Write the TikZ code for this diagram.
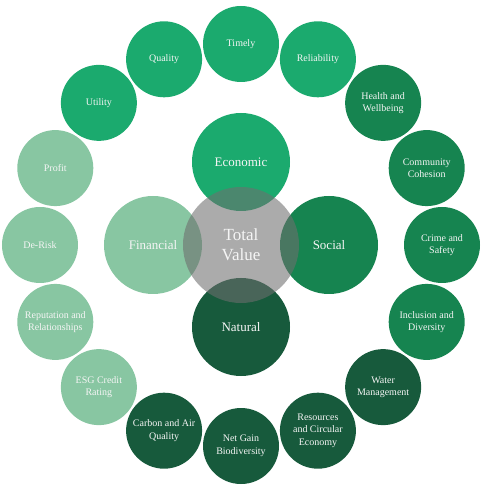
\documentclass[tikz,border=0pt]{standalone}
\usepackage{fontspec}
\setmainfont{Liberation Serif}
\definecolor{econ}{RGB}{27,170,110}
\definecolor{soc}{RGB}{22,132,80}
\definecolor{nat}{RGB}{23,90,60}
\definecolor{fin}{RGB}{136,198,162}
\definecolor{tvgray}{RGB}{110,110,110}
\definecolor{txt}{RGB}{245,245,245}
\tikzset{
  outer/.style={circle, minimum size=76pt, inner sep=0pt, align=center, text=txt,
    font=\fontsize{10}{12.5}\selectfont},
  pillar/.style={circle, minimum size=98pt, inner sep=0pt, align=center, text=txt,
    font=\fontsize{13}{15}\selectfont},
  total/.style={circle, minimum size=116pt, inner sep=0pt, align=center, text=txt,
    fill=tvgray, fill opacity=0.58, text opacity=1,
    font=\fontsize{17}{20}\selectfont}
}
\begin{document}
\begin{tikzpicture}[x=1pt,y=1pt]
\useasboundingbox (-241,-249) rectangle (242,245);
\def\R{201}
% outer ring: economic group
\node[outer, fill=econ] (timely) at (90:\R) {Timely};
\node[outer, fill=econ] (reliab) at (67.5:\R) {Reliability};
\node[outer, fill=econ] (quality) at (112.5:\R) {Quality};
\node[outer, fill=econ] (utility) at (135:\R) {Utility};
% social group
\node[outer, fill=soc] (health) at (45:\R) {Health and\\Wellbeing};
\node[outer, fill=soc] (commun) at (22.5:\R) {Community\\Cohesion};
\node[outer, fill=soc] (crime) at (0:\R) {Crime and\\Safety};
\node[outer, fill=soc] (inclus) at (-22.5:\R) {Inclusion and\\Diversity};
% natural group
\node[outer, fill=nat] (water) at (-45:\R) {Water\\Management};
\node[outer, fill=nat] (resour) at (-67.5:\R) {Resources\\and Circular\\Economy};
\node[outer, fill=nat] (netgain) at (-90:\R) {Net Gain\\Biodiversity};
\node[outer, fill=nat] (carbon) at (-112.5:\R) {Carbon and Air\\Quality};
% financial group
\node[outer, fill=fin] (esg) at (-135:\R) {ESG Credit\\Rating};
\node[outer, fill=fin] (reput) at (-157.5:\R) {Reputation and\\Relationships};
\node[outer, fill=fin] (derisk) at (180:\R) {De-Risk};
\node[outer, fill=fin] (profit) at (157.5:\R) {Profit};
% pillars
\node[pillar, fill=econ] (economic) at (0,83) {Economic};
\node[pillar, fill=soc] (social) at (88,0) {Social};
\node[pillar, fill=nat] (natural) at (0,-82) {Natural};
\node[pillar, fill=fin] (financial) at (-88,0) {Financial};
% centre
\node[total] (tv) at (0,0) {Total\\Value};
\end{tikzpicture}
\end{document}
